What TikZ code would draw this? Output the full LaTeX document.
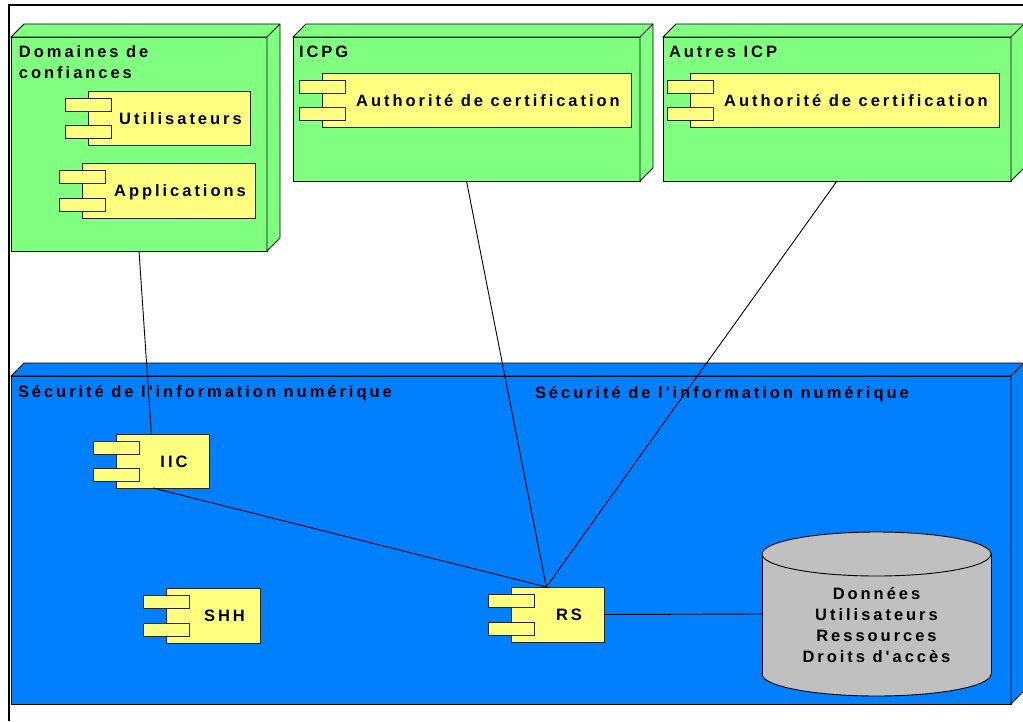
\documentclass[tikz,border=0pt]{standalone}
\usepackage{fontspec}
\newfontfamily\dfont[LetterSpace=18]{Liberation Sans}
\usetikzlibrary{calc}
\definecolor{nodegreen}{RGB}{128,255,128}
\definecolor{compyellow}{RGB}{255,255,128}
\definecolor{secblue}{RGB}{0,128,255}
\definecolor{dbgray}{RGB}{192,192,192}
\tikzset{
  every node/.style={inner sep=0pt, outer sep=0pt},
  txt/.style={font=\dfont\bfseries\fontsize{16.5}{21.3}\selectfont},
  face/.style={draw=black, line width=0.9pt},
  boxnode/.style={face, anchor=north west, rectangle},
  compbox/.style={draw=black!85, line width=1pt, fill=compyellow, rectangle},
  comptab/.style={draw=black!85, line width=1pt, fill=compyellow},
  conn/.style={draw=black, line width=0.9pt},
  frame/.style={draw=black, line width=2pt}
}
\newcommand\umlcomp[6]{%
  \node[compbox, anchor=north west, minimum width=#4pt, minimum height=#5pt] (#1) at (#2,#3) {};
  \draw[comptab] ($(#1.north west)+(-23,7)$) rectangle ++(46,13);
  \draw[comptab] ($(#1.south west)+(-23,-20)$) rectangle ++(46,13);
  \node[txt, anchor=base] at ($(#1.center)+(11.5,6)$) {#6};
}
\newcommand\extrude[2]{%
  \draw[face, fill=#2] (#1.north west) -- ++(13,-13) -- ($(#1.north east)+(13,-13)$)
    -- ($(#1.south east)+(13,-13)$) -- (#1.south east) -- (#1.north east) -- cycle;
  \draw[face] (#1.north east) -- ++(13,-13);
}
\begin{document}
\begin{tikzpicture}[x=1pt,y=-1pt]
\useasboundingbox (0,0) rectangle (1023,721);
\fill[white] (0,0) rectangle (1023,721);
\draw[frame] (9,721) -- (9,5) -- (1024,5);

% green deployment nodes
\node[boxnode, fill=nodegreen, minimum width=256pt, minimum height=214pt] (dom) at (11,37) {};
\extrude{dom}{nodegreen}
\node[txt, anchor=north west, align=left] (domt) at (19,45.2) {Domaines de\\confiances};
\umlcomp{util}{88}{91}{162}{54}{Utilisateurs}
\umlcomp{appl}{82}{163}{173}{55}{Applications}

\node[boxnode, fill=nodegreen, minimum width=347pt, minimum height=144pt] (icpg) at (293,37) {};
\extrude{icpg}{nodegreen}
\node[txt, anchor=base west] (icpgt) at (299,57) {ICPG};
\umlcomp{ac1}{322}{73}{309}{54}{Authorité de certification}

\node[boxnode, fill=nodegreen, minimum width=348pt, minimum height=144pt] (autres) at (663,37) {};
\extrude{autres}{nodegreen}
\node[txt, anchor=base west] (autrest) at (669,57) {Autres ICP};
\umlcomp{ac2}{690}{73}{309}{54}{Authorité de certification}

% blue node
\node[boxnode, fill=secblue, minimum width=1000pt, minimum height=328pt] (sec) at (11,376) {};
\extrude{sec}{secblue}
\node[txt, anchor=base west] (sect1) at (18,397) {Sécurité de l'information numérique};
\node[txt, anchor=base west] (sect2) at (535,398) {Sécurité de l'information numérique};

\umlcomp{iic}{116}{434}{93}{54}{IIC}
\umlcomp{shh}{166}{588}{94}{55}{SHH}
\umlcomp{rs}{511}{587}{93}{55}{RS}

% database cylinder
\node[minimum width=229pt, minimum height=164pt] (db) at (876.5,614) {};
\draw[face, fill=dbgray] ($(db.south)+(0,-22)$) ellipse [x radius=114.5pt, y radius=22pt];
\fill[dbgray] ($(db.north west)+(0,22)$) rectangle ($(db.south east)+(0,-22)$);
\draw[face] ($(db.north west)+(0,22)$) -- ($(db.south west)+(0,-22)$);
\draw[face] ($(db.north east)+(0,22)$) -- ($(db.south east)+(0,-22)$);
\draw[face, fill=dbgray] ($(db.north)+(0,22)$) ellipse [x radius=114.5pt, y radius=22pt];
\node[txt, align=center] (dbt) at (876.5,625) {Données\\Utilisateurs\\Ressources\\Droits d'accès};

% connectors
\draw[conn] (dom.south) -- ($(iic.north west)!0.38!(iic.north east)$);
\draw[conn] (icpg.south) -- ($(rs.north west)!0.38!(rs.north east)$);
\draw[conn] (autres.south) -- ($(rs.north west)!0.38!(rs.north east)$);
\draw[conn] ($(iic.south west)!0.4!(iic.south east)$) -- ($(rs.north west)!0.38!(rs.north east)$);
\draw[conn] (rs.east) -- (db.west);
\end{tikzpicture}
\end{document}
